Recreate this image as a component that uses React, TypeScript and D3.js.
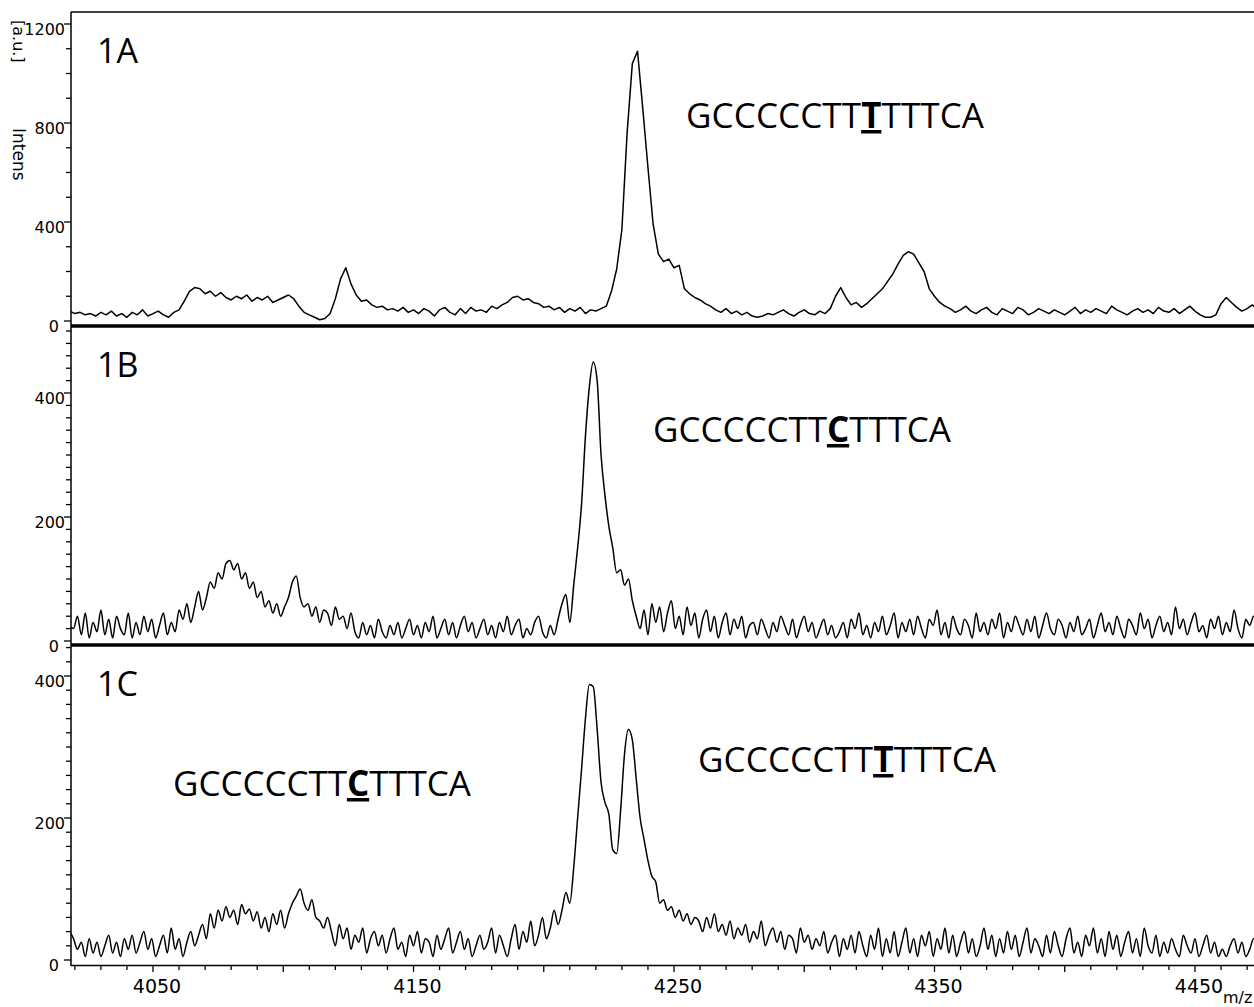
import React from 'react';
import * as d3 from 'd3';

// ---------- data ----------
const mzStartA = 4018;
const mzStepA = 2;
const intensA: number[] = [
  40, 30, 35, 25, 30, 20, 35, 25, 40, 20, 30, 15, 35, 25, 45, 20, 30, 40, 25, 15, 35, 45,
  80, 120,
  135, 130, 110, 120, 100, 115, 95, 85, 100, 90, 105, 80, 95, 85, 100, 75, 85, 95, 105, 90, 60,
  35, 25, 15, 5, 10, 30, 90,
  170, 215, 150, 105, 80, 85, 65,
  55, 60, 45, 50, 40, 55, 35, 45, 30, 50, 40, 20, 45, 55, 35, 25, 50, 30, 55, 40, 45, 35, 60, 50, 65, 75,
  95, 100, 85, 90, 75, 70, 55,
  60, 45, 55, 35, 50, 40, 55, 30, 45, 40, 50, 60,
  120, 210, 370, 760, 1040, 1090, 860, 620, 390, 270, 240, 250, 215, 225, 130, 110, 95, 85, 70, 60,
  45, 35, 50, 30, 40, 25, 35, 20, 15, 20, 30, 25, 35, 45, 30, 20, 35, 45, 30, 25, 40, 30, 50,
  100, 135, 95, 65, 75, 55, 70, 90, 110,
  130, 160, 190, 230, 265, 280, 270, 235, 200, 130, 100, 75, 60,
  50, 35, 45, 60, 40, 30, 45, 55, 35, 25,
  50, 40, 30, 55, 45, 25, 35, 50, 40, 30,
  45, 35, 25, 40, 55, 30, 45, 35, 50, 40,
  30, 60, 45, 35, 25, 40, 50, 35, 45, 30,
  55, 40, 35, 50, 30, 45, 60, 40, 25, 15,
  15, 25, 70, 95, 75, 55, 40, 50, 65, 45,
];

const mzStartBC = 4018;
const mzStepBC = 1.5;
const intensB: number[] = [
  25, 20, 40, 10, 45, 5, 30, 15, 50, 10, 35, 5, 40, 20, 10, 45, 5, 30, 10, 40, 15, 35, 5, 25, 45, 10, 30, 15, 50,
  35, 60, 30, 55, 80, 50, 70, 95, 85, 110, 100, 125, 130, 115, 125, 100, 110,
  85, 95, 70, 80, 55, 65, 45, 60, 40, 55, 70, 95, 105, 70, 55,
  60, 40, 55, 30, 50, 45, 25, 55, 35, 40, 20, 45, 15,
  5, 30, 10, 25, 5, 35, 15, 5, 25, 10,
  30, 5, 20, 35, 10, 25, 5, 30, 15, 40,
  5, 20, 35, 10, 30, 5, 25, 40, 15, 30,
  5, 20, 35, 10, 25, 5, 30, 15, 40, 10,
  25, 35, 5, 20, 10, 30, 40, 15, 5, 25,
  10, 35,
  60, 75, 30, 90, 150, 220, 330, 410, 450, 420, 300, 235, 185, 150, 110, 115, 90, 100, 65, 40,
  20, 50, 10, 60, 30, 55, 15, 45, 65, 20,
  40, 10, 55, 25, 45, 5, 35, 50, 15, 40,
  5, 30, 45, 10, 35, 20, 40, 5, 25, 30,
  10, 35, 20, 5, 30, 15, 40, 25, 10, 35,
  5, 25, 40, 15, 30, 5, 20, 35, 10, 25,
  5, 15, 30, 5, 35, 20, 45, 10, 25, 5,
  30, 15, 40, 10, 25, 45, 5, 30, 15, 35,
  10, 40, 20, 5, 35, 25, 50, 10, 30, 5,
  40, 20, 10, 35, 25, 5, 45, 15, 30, 10,
  35, 20, 45, 5, 30, 15, 40, 25, 10, 35,
  15, 40, 5, 25, 45, 20, 10, 35, 25, 5,
  30, 15, 40, 10, 20, 35, 5, 25, 45, 15,
  30, 10, 40, 20, 5, 35, 25, 10, 45, 20,
  35, 5, 25, 40, 15, 30, 10, 55, 20, 35,
  10, 30, 45, 15, 25, 5, 35, 20, 40, 10,
  30, 15, 50, 20, 5, 35, 25, 40, 30,
];

const intensC: number[] = [
  40, 30, 15, 25, 5, 30, 10, 25, 5, 20, 35, 10, 25, 5, 30, 15, 35, 10, 25, 40, 15, 30, 5, 20, 35, 10, 45, 15, 30, 5, 25, 40, 20, 35,
  50, 30, 65, 45, 70, 55, 75, 60, 70, 50,
  78, 65, 72, 55, 68, 45, 60, 40, 65, 50,
  70, 45, 65, 80, 90, 100, 80, 70, 85, 60,
  55, 45, 60,
  40, 20, 50, 30, 45, 15, 35, 25, 45, 10,
  30, 40, 20, 35, 10, 30, 45, 15, 25, 5,
  35, 20, 40, 10, 30, 25, 5, 35, 15, 30,
  45, 10, 25, 40, 15, 30, 5, 20, 35, 15,
  25, 45, 10, 35, 20, 5, 30, 50, 15, 40,
  25, 55, 20, 35, 60, 30, 45, 70, 50,
  70, 95, 80, 130, 200, 268, 340, 388, 385, 325,
  250, 222, 205, 155, 150, 210, 290, 325, 310, 255,
  200, 170, 140, 118, 110, 80, 85, 70, 75, 60,
  70, 55, 65, 50, 60,
  55, 40, 60, 45, 65, 40, 50, 35, 55, 30,
  45, 35, 50, 25, 40, 30, 55, 20, 35, 45,
  25, 40, 15, 35, 30, 10, 45, 25, 35, 15,
  30, 20, 40, 10, 25, 35, 5, 30, 15, 35,
  10, 40, 20, 5, 35, 15, 45, 5, 30, 10,
  40, 5, 25, 45, 10, 30, 5, 35, 20, 40,
  5, 30, 15, 45, 10, 35, 5, 25, 40, 10,
  30, 5, 20, 45, 15, 35, 5, 30, 10, 40,
  15, 35, 5, 25, 45, 10, 30, 20, 5, 35,
  10, 40, 20, 5, 30, 45, 10, 25, 5, 35,
  20, 45, 10, 30, 5, 40, 15, 35, 5, 25,
  40, 10, 30, 5, 45, 20, 10, 35, 5, 25,
  10, 30, 15, 5, 35, 20, 10, 30, 5, 20,
  35, 10, 25, 5, 15, 5, 20, 30, 10, 25,
  5, 15, 30, 20,
];

const xTickLabels = [4050, 4150, 4250, 4350, 4450];
const yTicksA = [0, 400, 800, 1200];
const yTicksB = [0, 200, 400];
const yTicksC = [0, 200, 400];
const panelNames = ['1A', '1B', '1C'];
const seqPrefix = 'GCCCCCTT';
const seqSuffix = 'TTTCA';
const seqA = 'T';
const seqB = 'C';
const xLabel = 'm/z';
const yLabel1 = 'Intens';
const yLabel2 = '[a.u.]';

// ---------- layout ----------
const W = 1254;
const H = 1007;
const LEFT = 71;
const RIGHT = 1254;
const TICK_FONT = '"DejaVu Sans", Verdana, sans-serif';
const TEXT_FONT = '"Open Sans", "Noto Sans", sans-serif';

export default function App() {
  const x = d3.scaleLinear().domain([4050, 4450]).range([153, 1195]);

  const panels = [
    { name: panelNames[0], data: intensA, start: mzStartA, step: mzStepA, smooth: false,
      y: d3.scaleLinear().domain([0, 1200]).range([321, 24]), top: 12, bottom: 326,
      ticks: yTicksA, minor: 100 },
    { name: panelNames[1], data: intensB, start: mzStartBC, step: mzStepBC, smooth: true,
      y: d3.scaleLinear().domain([0, 400]).range([641, 393]), top: 326, bottom: 645,
      ticks: yTicksB, minor: 20 },
    { name: panelNames[2], data: intensC, start: mzStartBC, step: mzStepBC, smooth: true,
      y: d3.scaleLinear().domain([0, 400]).range([960, 676]), top: 645, bottom: 965.5,
      ticks: yTicksC, minor: 20 },
  ];

  const xMin = Math.ceil(x.invert(LEFT) / 10) * 10;
  const xMax = Math.floor(x.invert(RIGHT) / 10) * 10;
  const xMinor = d3.range(xMin, xMax + 1, 10);

  const seq = (bold: string, px: number, py: number) => (
    <text x={px} y={py} fontFamily={TEXT_FONT} fontSize={35} fill="#000" textLength={298} lengthAdjust="spacing">
      {seqPrefix}
      <tspan fontWeight="bold" textDecoration="underline">{bold}</tspan>
      {seqSuffix}
    </text>
  );

  return (
    <svg width={W} height={H} style={{ position: 'absolute', left: 0, top: 0, background: '#fff' }}>
      <rect x={0} y={0} width={W} height={H} fill="#fff" />
      <defs>
        {panels.map((p, k) => (
          <clipPath id={`clip${k}`} key={k}>
            <rect x={LEFT} y={p.top} width={RIGHT - LEFT} height={p.bottom - p.top} />
          </clipPath>
        ))}
      </defs>

      {panels.map((p, k) => {
        const line = d3.line<number>()
          .x((_, i) => x(p.start + i * p.step))
          .y((d) => p.y(d))
          .curve(p.smooth ? d3.curveMonotoneX : d3.curveLinear);
        const topVal = p.y.invert(p.top);
        const minorTicks = d3.range(0, topVal, p.minor);
        return (
          <g key={k}>
            <path d={line(p.data) || ''} fill="none" stroke="#000" strokeWidth={1.5}
              strokeLinejoin="round" clipPath={`url(#clip${k})`} />
            {minorTicks.map((t) => (
              <line key={t} x1={LEFT - (p.ticks.includes(t) ? 7 : 5)} x2={LEFT}
                y1={p.y(t)} y2={p.y(t)} stroke="#000" strokeWidth={1.3} />
            ))}
            {p.ticks.map((t) => (
              <text key={'l' + t} x={t === 0 ? 59 : 65} y={p.y(t) + 11} textAnchor="end"
                fontFamily={TICK_FONT} fontSize={16} fill="#000">{t}</text>
            ))}
            <text x={97} y={p.top + 51} fontFamily={TEXT_FONT} fontSize={34} fill="#000">{p.name}</text>
          </g>
        );
      })}

      {/* frame */}
      <line x1={LEFT} x2={RIGHT} y1={12} y2={12} stroke="#000" strokeWidth={1.5} />
      <line x1={LEFT} x2={LEFT} y1={12} y2={966} stroke="#000" strokeWidth={1.5} />
      <line x1={LEFT} x2={RIGHT} y1={326} y2={326} stroke="#000" strokeWidth={3.5} />
      <line x1={LEFT} x2={RIGHT} y1={645} y2={645} stroke="#000" strokeWidth={3.5} />
      <line x1={LEFT} x2={RIGHT} y1={965.5} y2={965.5} stroke="#000" strokeWidth={1.5} />

      {/* x ticks */}
      {xMinor.map((t) => (
        <line key={t} x1={x(t)} x2={x(t)} y1={966} y2={966 + (t % 50 === 0 ? 6 : 4)}
          stroke="#000" strokeWidth={1.3} />
      ))}
      {xTickLabels.map((t) => (
        <text key={t} x={x(t) + 4} y={993} textAnchor="middle" fontFamily={TICK_FONT}
          fontSize={19} fill="#000">{t}</text>
      ))}
      <text x={1223} y={1003} fontFamily={TICK_FONT} fontSize={16} fill="#000">{xLabel}</text>

      {/* y axis label */}
      <text transform="translate(13,128) rotate(90)" fontFamily={TICK_FONT} fontSize={17} fill="#000">{yLabel1}</text>
      <text transform="translate(13,20) rotate(90)" fontFamily={TICK_FONT} fontSize={16} fill="#000">{yLabel2}</text>

      {/* annotations */}
      {seq(seqA, 686, 128)}
      {seq(seqB, 653, 442)}
      {seq(seqB, 173, 796)}
      {seq(seqA, 698, 772)}
    </svg>
  );
}
